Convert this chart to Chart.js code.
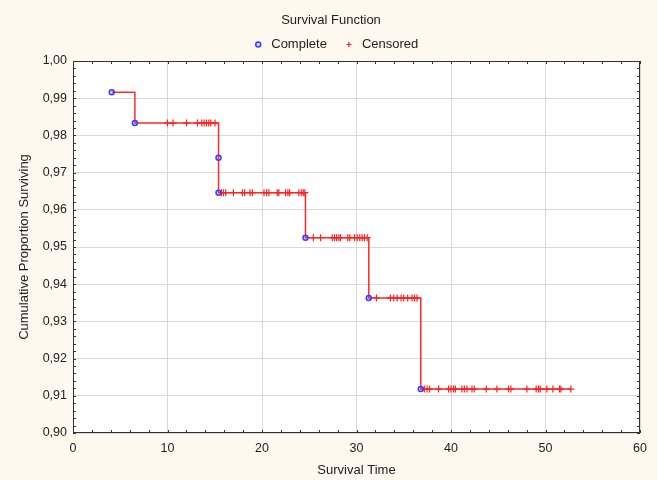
<!DOCTYPE html>
<html lang="en">
<head>
  <meta charset="UTF-8" />
  <title>Survival Function</title>
  <script src="https://cdn.jsdelivr.net/npm/chart.js"></script>
  <style>
    body {
      margin: 0;
      background: #fef9ee;
    }
  </style>
</head>
<body>
  <canvas id="survivalChart" width="657" height="480"></canvas>

  <script>
    // Kaplan-Meier step curve (time, cumulative proportion surviving)
    const stepTimes = [4.1, 6.55, 15.4, 24.6, 31.3, 36.8, 52.7];
    const stepSurv = [0.9916, 0.9833, 0.9646, 0.9525, 0.9363, 0.9118, 0.9118];

    // complete (failure) observations
    const completeTimes = [4.1, 6.55, 15.4, 15.4, 24.6, 31.3, 36.8];
    const completeSurv = [0.9916, 0.9833, 0.9740, 0.9646, 0.9525, 0.9363, 0.9118];

    // censored observations, one list per plateau of the curve
    const censoredLevels = [0.9833, 0.9646, 0.9525, 0.9363, 0.9118];
    const censoredTimes = [
      [10.0, 10.59, 12.01, 13.17, 13.63, 13.87, 14.12, 14.37, 14.58, 15.03],
      [15.71, 15.92, 16.16, 16.97, 17.93, 18.17, 18.73, 18.98, 20.21, 20.49, 20.73,
       21.62, 21.79, 22.5, 22.74, 22.92, 23.9, 24.16, 24.37, 24.54],
      [25.43, 26.2, 27.43, 27.67, 27.89, 28.13, 28.31, 29.08, 29.29, 29.79, 30.07,
       30.35, 30.6, 30.84, 31.13],
      [32.11, 33.59, 33.94, 34.3, 34.72, 35.0, 35.42, 35.88, 36.13, 36.41],
      [37.18, 37.47, 37.74, 38.69, 39.75, 40.0, 40.28, 40.46, 41.16, 41.41, 41.69,
       42.22, 42.46, 43.73, 44.86, 46.09, 46.34, 48.03, 49.01, 49.26, 49.44, 50.14,
       50.78, 51.48, 51.63, 52.68]
    ];

    const xTickLabels = ["0", "10", "20", "30", "40", "50", "60"];
    const yTickLabels = ["0,90", "0,91", "0,92", "0,93", "0,94", "0,95",
                         "0,96", "0,97", "0,98", "0,99", "1,00"];

    const FONT = "'Liberation Sans', Arial, sans-serif";
    const TEXT = "#222";

    const stepPoints = stepTimes.map((t, i) => ({ x: t, y: stepSurv[i] }));
    const completePoints = completeTimes.map((t, i) => ({ x: t, y: completeSurv[i] }));
    const censoredPoints = [];
    censoredTimes.forEach((times, g) => {
      times.forEach(t => censoredPoints.push({ x: t, y: censoredLevels[g] }));
    });

    // cream page, white plot area, black frame with inward minor ticks
    const plotFrame = {
      id: "plotFrame",
      afterLayout(chart) {
        // header sits a little right of the page centre
        chart.titleBlock.left += 11;
        chart.titleBlock.right += 11;
        chart.legend.left += 15;
        chart.legend.right += 15;
      },
      beforeDraw(chart) {
        const { ctx, chartArea: a } = chart;
        ctx.save();
        ctx.fillStyle = "#fef9ee";
        ctx.fillRect(0, 0, chart.width, chart.height);
        ctx.fillStyle = "#ffffff";
        ctx.fillRect(a.left, a.top, a.width, a.height);
        ctx.restore();
      },
      afterDraw(chart) {
        const { ctx, chartArea: a, scales: { x, y } } = chart;
        ctx.save();
        ctx.strokeStyle = "#333";
        ctx.lineWidth = 1;
        ctx.beginPath();
        for (let t = 0; t <= 60; t += 2) {
          const px = Math.round(x.getPixelForValue(t)) + 0.5;
          ctx.moveTo(px, a.bottom); ctx.lineTo(px, a.bottom - 3);
          ctx.moveTo(px, a.top); ctx.lineTo(px, a.top + 3);
        }
        for (let k = 0; k <= 50; k++) {
          const py = Math.round(y.getPixelForValue(0.9 + k * 0.002)) + 0.5;
          ctx.moveTo(a.left, py); ctx.lineTo(a.left + 3, py);
          ctx.moveTo(a.right, py); ctx.lineTo(a.right - 3, py);
        }
        ctx.stroke();
        ctx.strokeRect(a.left + 0.5, a.top + 0.5, a.width - 1, a.height - 1);
        ctx.restore();
      }
    };

    new Chart(document.getElementById("survivalChart"), {
      type: "scatter",
      data: {
        datasets: [
          {
            label: "Complete",
            data: completePoints,
            order: 0,
            pointStyle: "circle",
            pointRadius: 2.5,
            borderWidth: 1.5,
            borderColor: "#3b3bff",
            backgroundColor: "rgba(120,120,255,0.25)"
          },
          {
            label: "Censored",
            data: censoredPoints,
            order: 1,
            pointStyle: "cross",
            pointRadius: 3.5,
            borderWidth: 1.2,
            borderColor: "#ff2020",
            backgroundColor: "#ff2020"
          },
          {
            type: "line",
            label: "Survival",
            data: stepPoints,
            order: 2,
            stepped: "before",
            showLine: true,
            pointRadius: 0,
            borderWidth: 1.5,
            borderColor: "#ff2a2a",
            fill: false
          }
        ]
      },
      options: {
        responsive: false,
        animation: false,
        layout: { padding: { left: 0, right: 17, top: 0, bottom: 0 } },
        plugins: {
          title: {
            display: true,
            text: "Survival Function",
            color: TEXT,
            font: { family: FONT, size: 13, weight: "normal", lineHeight: 1 },
            padding: { top: 13.5, bottom: -4 }
          },
          legend: {
            position: "top",
            labels: {
              usePointStyle: true,
              boxWidth: 13,
              boxHeight: 3.5,
              padding: 15.5,
              color: TEXT,
              font: { family: FONT, size: 13 },
              filter: item => item.text !== "Survival"
            }
          },
          tooltip: { enabled: false }
        },
        scales: {
          x: {
            type: "linear",
            min: 0,
            max: 60,
            ticks: {
              stepSize: 10,
              padding: 8,
              color: TEXT,
              font: { family: FONT, size: 12.5 },
              callback: (v, i) => xTickLabels[i]
            },
            grid: { color: "#d9d9d9", drawTicks: false },
            border: { display: false },
            title: {
              display: true,
              text: "Survival Time",
              color: TEXT,
              font: { family: FONT, size: 13 },
              padding: { top: 0, bottom: 2 }
            },
            afterFit: scale => { scale.height = 47; }
          },
          y: {
            type: "linear",
            min: 0.9,
            max: 1.0,
            ticks: {
              stepSize: 0.01,
              padding: 6,
              color: TEXT,
              font: { family: FONT, size: 12.5 },
              callback: (v, i) => yTickLabels[i]
            },
            grid: { color: "#d9d9d9", drawTicks: false },
            border: { display: false },
            title: {
              display: true,
              text: "Cumulative Proportion Surviving",
              color: TEXT,
              font: { family: FONT, size: 13 },
              padding: { top: 17, bottom: 0 }
            },
            afterFit: scale => { scale.width = 73; }
          }
        }
      },
      plugins: [plotFrame]
    });
  </script>
</body>
</html>
